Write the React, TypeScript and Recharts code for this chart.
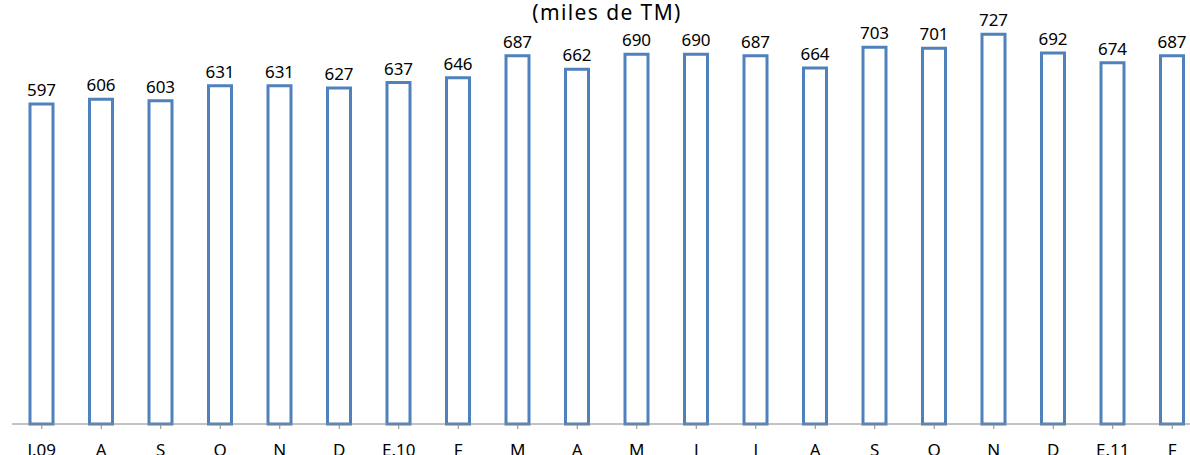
import { BarChart, Bar, XAxis, YAxis, LabelList } from 'recharts'

const months = ['J.09', 'A', 'S', 'O', 'N', 'D', 'E.10', 'F', 'M', 'A', 'M', 'J', 'J', 'A', 'S', 'O', 'N', 'D', 'E.11', 'F']
const values = [597, 606, 603, 631, 631, 627, 637, 646, 687, 662, 690, 690, 687, 664, 703, 701, 727, 692, 674, 687]

const data = months.map((m, i) => ({ label: m, value: values[i] }))

const font = '"Noto Sans", "Open Sans", sans-serif'

const App = () => {
    return (
        <div style={{ position: 'absolute', left: 0, top: 0, width: 1190, height: 455, overflow: 'hidden', background: '#fff' }}>
            <style>{'body{margin:0}'}</style>
            <svg width={1190} height={30} style={{ position: 'absolute', left: 0, top: 0 }}>
                <text
                    x={607}
                    y={20}
                    textAnchor="middle"
                    fontFamily={font}
                    fontSize={21}
                    letterSpacing={1.4}
                    fill="#000"
                >
                    (miles de TM)
                </text>
            </svg>
            <BarChart
                width={1190}
                height={455}
                data={data}
                margin={{ top: 22, right: -12, bottom: 1, left: 12 }}
                barCategoryGap={0}
            >
                <XAxis
                    dataKey="label"
                    stroke="#868686"
                    tickSize={5}
                    height={30}
                    interval={0}
                    tick={{ fill: '#000', fontSize: 17, fontFamily: font, dy: 13 }}
                />
                <YAxis hide domain={[0, 750]} />
                <Bar
                    dataKey="value"
                    fill="#fff"
                    stroke="#4f81bd"
                    strokeWidth={3}
                    barSize={23}
                    isAnimationActive={false}
                >
                    <LabelList
                        dataKey="value"
                        position="top"
                        offset={8}
                        style={{ fill: '#000', fontSize: 17, fontFamily: font }}
                    />
                </Bar>
            </BarChart>
        </div>
    )
}

export default App
